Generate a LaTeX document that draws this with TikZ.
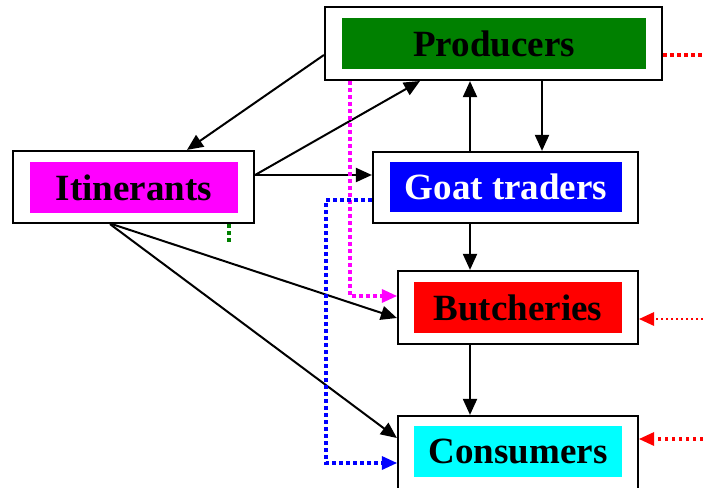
\documentclass[tikz,border=0pt]{standalone}
\usepackage{fontspec}
\setmainfont{Liberation Serif}
\usetikzlibrary{arrows.meta}
\definecolor{cgreen}{RGB}{0,128,0}
\definecolor{cmag}{RGB}{255,0,255}
\definecolor{cblue}{RGB}{0,0,255}
\definecolor{cred}{RGB}{255,0,0}
\definecolor{ccyan}{RGB}{0,255,255}
\begin{document}
\begin{tikzpicture}[x=1pt,y=-1pt,
  outerbox/.style={draw=black,line width=2.2pt,fill=white,inner sep=0pt},
  innerbox/.style={inner sep=0pt,minimum width=208pt,minimum height=51pt,font=\fontsize{37}{40}\selectfont\bfseries},
  arr/.style={line width=2pt,-{Triangle[length=16pt,width=14pt]}},
  dotline/.style={line width=3.6pt,dash pattern=on 3.5pt off 3.5pt}
]
\useasboundingbox (0,0) rectangle (703,487);
% outer boxes
\node[outerbox,minimum width=337pt,minimum height=73pt] (prod) at (493.5,43.5) {};
\node[outerbox,minimum width=241pt,minimum height=72pt] (itin) at (133.5,187) {};
\node[outerbox,minimum width=265pt,minimum height=71pt] (goat) at (505.5,187.5) {};
\node[outerbox,minimum width=240pt,minimum height=73pt] (butch) at (518,307.5) {};
\node[outerbox,minimum width=240pt,minimum height=73pt] (cons) at (518,452.5) {};
% inner boxes
\node[innerbox,fill=cgreen,minimum width=304pt] (prodin) at (494,43.5) {Producers};
\node[innerbox,fill=cmag] (itinin) at (134,187.5) {Itinerants};
\node[innerbox,fill=cblue,text=white,minimum width=232pt,minimum height=50pt] (goatin) at (506,187) {Goat traders};
\node[innerbox,fill=cred] (butchin) at (518,307.5) {Butcheries};
\node[innerbox,fill=ccyan] (consin) at (518,451.5) {Consumers};
% coordinates
\coordinate (rA) at (703,55);
\coordinate (rB) at (703,319);
\coordinate (rC) at (703,439);
\coordinate (magc) at (350,296);
\coordinate (bluA) at (326,200);
\coordinate (bluB) at (326,463);
\coordinate (grn) at (229,245);
% black arrows
\draw[arr] (prod.west |- 0,55) -- (itin.north -| 187,0);
\draw[arr] (itin.east |- 0,175) -- (420,81);
\draw[arr] (goat.north -| 470,0) -- (prod.south -| 470,0);
\draw[arr] (prod.south -| 542,0) -- (goat.north -| 542,0);
\draw[arr] (itin.east |- 0,175) -- (goat.west |- 0,175);
\draw[arr] (goat.south -| 470,0) -- (butch.north -| 470,0);
\draw[arr] (butch.south -| 470,0) -- (cons.north -| 470,0);
\draw[arr] (itin.south -| 112,0) -- (butch.west |- 0,318);
\draw[arr] (itin.south -| 110,0) -- (cons.west |- 0,438);
% dotted
\draw[dotline,cmag] (prod.south -| 350,0) -- (magc) -- ([xshift=-14pt]butch.west |- magc);
\fill[cmag] (butch.west |- magc) -- ++(-15,-7) -- ++(0,14) -- cycle;
\draw[dotline,cblue] (goat.west |- bluA) -- (bluA) -- (bluB) -- ([xshift=-14pt]cons.west |- bluB);
\fill[cblue] (cons.west |- bluB) -- ++(-15,-7) -- ++(0,14) -- cycle;
\draw[dotline,cred] (prod.east |- rA) -- (rA);
\draw[line width=2.4pt,dash pattern=on 2.5pt off 2.5pt,cred] (rB) -- ([xshift=14pt]butch.east |- rB);
\fill[cred] (butch.east |- rB) -- ++(15,-7) -- ++(0,14) -- cycle;
\draw[dotline,cred] (rC) -- ([xshift=14pt]cons.east |- rC);
\fill[cred] (cons.east |- rC) -- ++(15,-7) -- ++(0,14) -- cycle;
\draw[dotline,cgreen] (itin.south -| grn) -- (grn);
\end{tikzpicture}
\end{document}
